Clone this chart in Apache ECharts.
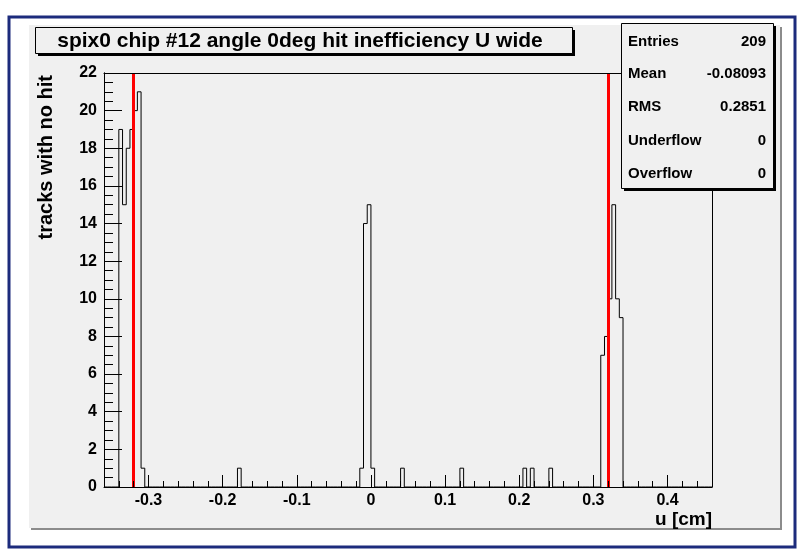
<!DOCTYPE html>
<html>
<head>
<meta charset="utf-8">
<script src="https://cdn.jsdelivr.net/npm/echarts@6/dist/echarts.min.js"></script>
<style>
html,body{margin:0;padding:0;background:#fff;}
#c{width:803px;height:553px;}
</style>
</head>
<body>
<div id="c"></div>
<script>
// ---- data ----
const titleText = 'spix0 chip #12 angle 0deg hit inefficiency U wide';
const xTitle = 'u [cm]';
const yTitle = 'tracks with no hit';
const xRange = [-0.36, 0.46];
const yRange = [0, 22];
const binWidth = 0.005;
// non-empty bins: low edge and count (all other bins are empty)
const binLowEdges = [-0.34, -0.335, -0.33, -0.325, -0.32, -0.315, -0.31,
  -0.18,
  -0.015, -0.01, -0.005, 0.0,
  0.04, 0.12, 0.205, 0.215, 0.24,
  0.31, 0.315, 0.32, 0.325, 0.33, 0.335];
const binCounts = [19, 15, 18, 19, 20, 21, 1,
  1,
  1, 14, 15, 1,
  1, 1, 1, 1, 1,
  7, 8, 10, 15, 10, 9];
const cutLines = [-0.32, 0.32];
const statLabels = ['Entries', 'Mean', 'RMS', 'Underflow', 'Overflow'];
const statValues = ['209', '-0.08093', '0.2851', '0', '0'];

// ---- build histogram outline ----
const nBins = Math.round((xRange[1] - xRange[0]) / binWidth);
const counts = new Array(nBins).fill(0);
binLowEdges.forEach((e, i) => {
  const idx = Math.round((e - xRange[0]) / binWidth);
  counts[idx] = binCounts[i];
});
const histPts = [];
for (let i = 0; i < nBins; i++) {
  histPts.push([+(xRange[0] + i * binWidth).toFixed(4), counts[i]]);
}
histPts.push([xRange[1], counts[nBins - 1]]);

const FONT = 'Liberation Sans, Arial, Helvetica, sans-serif';
const GRID = {left: 104, right: 91, top: 73, bottom: 66};
const gridW = 803 - GRID.left - GRID.right;
const chart = echarts.init(document.getElementById('c'), null, {renderer: 'canvas'});

const graphics = [
  {type: 'rect', z: -100, shape: {x: 9, y: 17, width: 786, height: 530}, style: {fill: 'none', stroke: '#1c2b7c', lineWidth: 3}},
  {type: 'rect', z: -99, shape: {x: 31, y: 27, width: 751, height: 503}, style: {fill: '#8c8c8c'}},
  {type: 'rect', z: -98, shape: {x: 29, y: 25, width: 751, height: 503}, style: {fill: '#f0f0f0'}},
  // title box
  {type: 'rect', z: 50, shape: {x: 38, y: 30, width: 537, height: 26}, style: {fill: '#000'}},
  {type: 'rect', z: 51, shape: {x: 35.5, y: 27.5, width: 537, height: 26}, style: {fill: '#f0f0f0', stroke: '#000', lineWidth: 1}},
  {type: 'text', z: 52, x: 300, y: 41, style: {text: titleText, font: 'bold 21px ' + FONT, fill: '#000', textAlign: 'center', textVerticalAlign: 'middle'}},
  // stats box
  {type: 'rect', z: 60, shape: {x: 624, y: 26, width: 152, height: 165}, style: {fill: '#000'}},
  {type: 'rect', z: 61, shape: {x: 621.5, y: 23.5, width: 152, height: 165}, style: {fill: '#f0f0f0', stroke: '#000', lineWidth: 1}},
  // axis titles
  {type: 'text', z: 10, x: 46, y: 75, rotation: Math.PI / 2, style: {text: yTitle, font: 'bold 20px ' + FONT, fill: '#000', textAlign: 'right', textVerticalAlign: 'middle'}},
  {type: 'text', z: 10, x: 712, y: 520, style: {text: xTitle, font: 'bold 19px ' + FONT, fill: '#000', textAlign: 'right', textVerticalAlign: 'middle'}}
];
const rowY = [42, 74, 107, 141, 174];
statLabels.forEach((s, i) => {
  graphics.push({type: 'text', z: 62, x: 628, y: rowY[i], style: {text: s, font: 'bold 15px ' + FONT, fill: '#000', textAlign: 'left', textVerticalAlign: 'middle'}});
  graphics.push({type: 'text', z: 62, x: 766, y: rowY[i], style: {text: statValues[i], font: 'bold 15px ' + FONT, fill: '#000', textAlign: 'right', textVerticalAlign: 'middle'}});
});

const frameLine = {show: true, onZero: false, lineStyle: {color: '#000', width: 1}};
const yTick = {show: true, inside: true, length: 18, lineStyle: {color: '#000', width: 1}};
const yMinor = {show: true, splitNumber: 4, length: 9, lineStyle: {color: '#000', width: 1}};
chart.setOption({
  animation: false,
  backgroundColor: '#ffffff',
  graphic: graphics,
  grid: [
    Object.assign({show: false, containLabel: false, outerBoundsMode: 'none'}, GRID),
    // helper grid: spans from the left page edge to the plot's right edge, so the
    // tick-carrying y axis crosses its x axis zero exactly at the plot's left edge
    {left: 0, right: GRID.right, top: GRID.top, bottom: GRID.bottom, show: false, containLabel: false, outerBoundsMode: 'none'}
  ],
  xAxis: [{
    // data axis
    type: 'value', gridIndex: 0, position: 'bottom', min: xRange[0], max: xRange[1], splitNumber: 8, z: 10,
    axisLine: frameLine,
    axisTick: {show: true, inside: true, length: 12, lineStyle: {color: '#000', width: 1}},
    minorTick: {show: true, splitNumber: 5, length: 6, lineStyle: {color: '#000', width: 1}},
    splitLine: {show: false},
    axisLabel: {show: true, showMinLabel: false, showMaxLabel: false, margin: 6, color: '#000', fontFamily: FONT, fontWeight: 'bold', fontSize: 16}
  }, {
    // top frame line
    type: 'value', gridIndex: 0, position: 'top', min: xRange[0], max: xRange[1], z: 10,
    axisLine: frameLine, axisTick: {show: false}, axisLabel: {show: false}, splitLine: {show: false}
  }, {
    // helper x axis (pixel-like units): zero lands GRID.left px from the page edge
    type: 'value', gridIndex: 1, show: false, min: -GRID.left, max: gridW
  }],
  yAxis: [{
    // labels
    type: 'value', gridIndex: 0, position: 'left', min: yRange[0], max: yRange[1], interval: 2, z: 10,
    axisLine: frameLine,
    axisTick: yTick,
    minorTick: yMinor,
    splitLine: {show: false},
    axisLabel: {show: true, margin: 7, color: '#000', fontFamily: FONT, fontWeight: 'bold', fontSize: 16}
  }, {
    // right frame line
    type: 'value', gridIndex: 0, position: 'right', min: yRange[0], max: yRange[1], z: 10,
    axisLine: frameLine, axisTick: {show: false}, axisLabel: {show: false}, splitLine: {show: false}
  }, {
    // tick carrier on the plot's left edge
    type: 'value', gridIndex: 1, position: 'left', min: yRange[0], max: yRange[1], interval: 2, z: 11,
    axisLine: {show: true, onZero: true, lineStyle: {color: '#000', width: 1}},
    axisTick: yTick,
    minorTick: yMinor,
    axisLabel: {show: false}, splitLine: {show: false}
  }],
  series: [
    {
      type: 'line', step: 'end', data: histPts, showSymbol: false, symbol: 'none',
      xAxisIndex: 0, yAxisIndex: 0,
      lineStyle: {color: '#000', width: 1}, silent: true, z: 3,
      markLine: {
        silent: true, symbol: ['none', 'none'], label: {show: false},
        lineStyle: {color: '#ff0000', width: 3, type: 'solid'},
        data: cutLines.map(v => ({xAxis: v}))
      }
    }
  ]
});
</script>
</body>
</html>
